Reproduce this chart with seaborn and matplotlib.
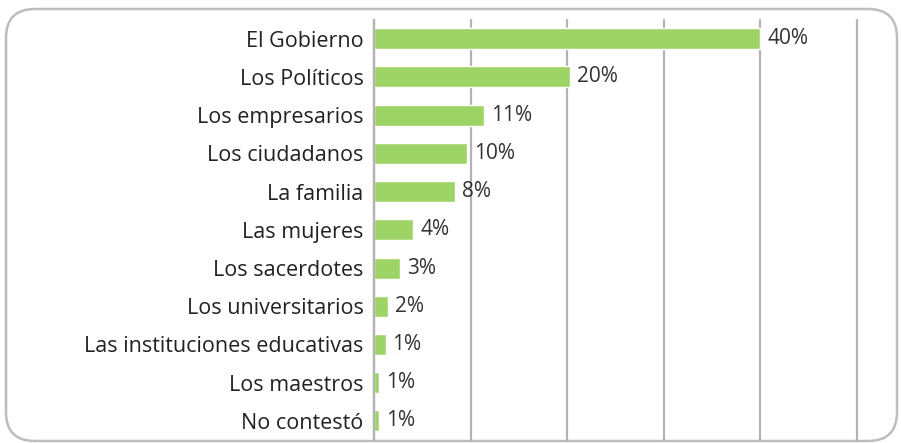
import matplotlib
matplotlib.use("Agg")
import matplotlib.pyplot as plt
import seaborn as sns
import pandas as pd
from matplotlib.patches import FancyBboxPatch

categories = ["El Gobierno", "Los Políticos", "Los empresarios", "Los ciudadanos",
              "La familia", "Las mujeres", "Los sacerdotes", "Los universitarios",
              "Las instituciones educativas", "Los maestros", "No contestó"]
values = [40.0, 20.3, 11.4, 9.65, 8.4, 4.05, 2.7, 1.5, 1.2, 0.5, 0.5]
value_labels = ["40%", "20%", "11%", "10%", "8%", "4%", "3%", "2%", "1%", "1%", "1%"]
x_ticks = [0, 10, 20, 30, 40, 50]

sns.set_style("white")
plt.rcParams["font.family"] = ["Open Sans", "DejaVu Sans"]

df = pd.DataFrame({"categoria": categories, "valor": values})

fig = plt.figure(figsize=(9.01, 4.43), dpi=100)
ax = fig.add_axes([374 / 901, 1 - 440 / 443, (857 - 374) / 901, (440 - 19.6) / 443])

sns.barplot(data=df, x="valor", y="categoria", orient="h", color="#9dd465",
            saturation=1, width=0.55, ax=ax)

ax.set_xlim(0, 50)
ax.set_xticks(x_ticks)
ax.set_xticklabels([])
ax.tick_params(axis="x", length=0)
ax.tick_params(axis="y", length=0, pad=7.5, labelsize=15.5, labelcolor="#222222")
ax.set_xlabel("")
ax.set_ylabel("")
ax.grid(axis="x", color="#b3b3b3", linewidth=1.6)
for gl in ax.get_xgridlines():
    gl.set_clip_on(False)
ax.set_axisbelow(True)
for s in ["top", "right", "bottom"]:
    ax.spines[s].set_visible(False)
ax.spines["left"].set_color("#b3b3b3")
ax.spines["left"].set_linewidth(1.6)
ax.set_zorder(2)
ax.patch.set_alpha(0)

for cont in ax.containers:
    ax.bar_label(cont, labels=value_labels, padding=5, fontsize=15, color="#333333")

frame = FancyBboxPatch((6 / 901, 2 / 443), 891 / 901, 432 / 443,
                       boxstyle="round,pad=0,rounding_size=0.032",
                       transform=fig.transFigure, facecolor="white",
                       edgecolor="#bdbdbd", linewidth=1.8, zorder=0,
                       mutation_aspect=901 / 443)
fig.patches.append(frame)

fig.savefig("out.png", dpi=100)
